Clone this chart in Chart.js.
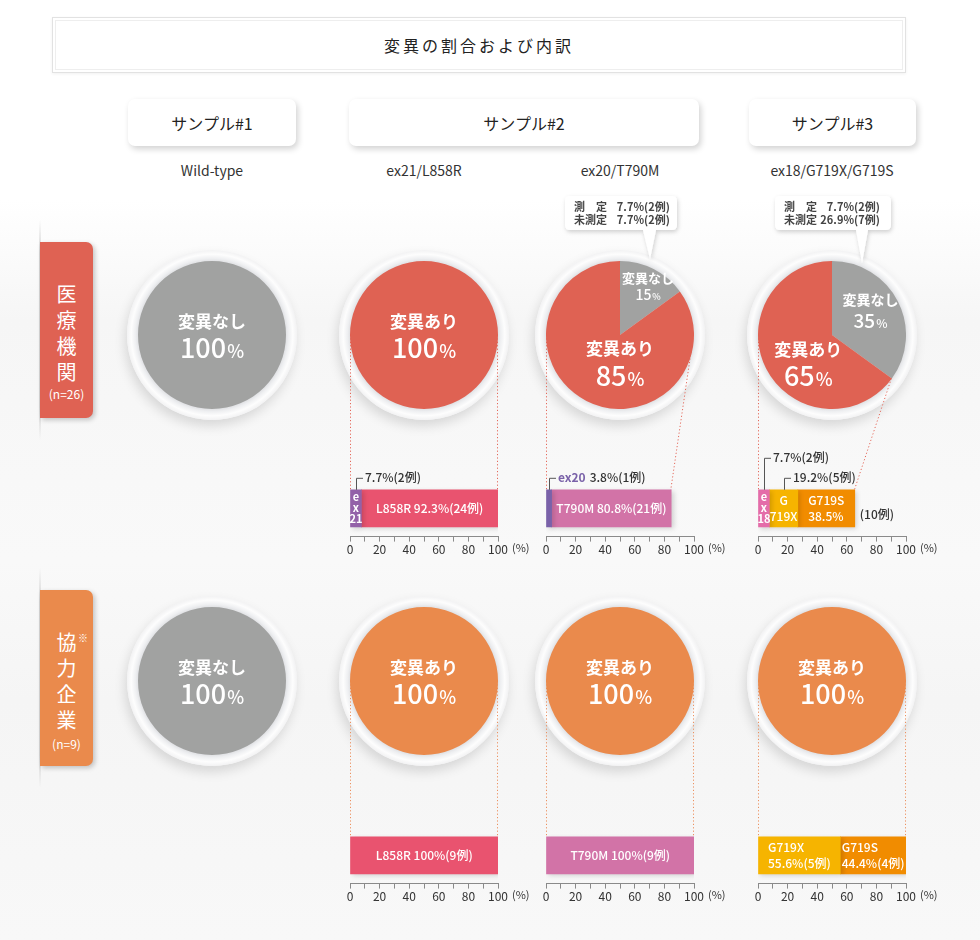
<!DOCTYPE html>
<html lang="ja">
<head>
<meta charset="utf-8">
<title>変異の割合および内訳</title>
<script src="https://cdn.jsdelivr.net/npm/chart.js@4.4.0/dist/chart.umd.min.js"></script>
<style>
  html, body { margin: 0; padding: 0; }
  body {
    width: 980px; height: 940px; position: relative; overflow: hidden;
    font-family: "Noto Sans CJK JP", "Noto Sans", sans-serif; color: #333;
    background: linear-gradient(#fff 0, #fff 200px, #f6f6f6 320px, #f9f9f9 560px, #f5f5f5 700px, #f8f8f8 940px);
  }
  .abs { position: absolute; }
  #title {
    left: 52px; top: 17px; width: 852px; height: 54px; background: #fff;
    border: 1px solid #e2e2e2; box-shadow: inset 0 0 0 2px #fff, inset 0 0 0 3px #eee, 0 1px 3px rgba(0,0,0,.06);
    display: flex; align-items: center; justify-content: center; font-size: 16px; letter-spacing: 3px; color: #222;
  }
  .sample {
    top: 99px; height: 47px; background: #fff; border-radius: 7px;
    box-shadow: 2px 3px 6px rgba(0,0,0,.18);
    display: flex; align-items: center; justify-content: center; font-size: 16px; color: #222;
  }
  .sub { top: 160px; width: 220px; text-align: center; font-size: 14px; color: #333; }
  .tab {
    left: 40px; width: 53px; border-radius: 0 7px 7px 0; color: #fff; text-align: center;
    box-shadow: 2px 2px 5px rgba(0,0,0,.22);
  }
  .tab .ch { position: absolute; left: 0; width: 53px; font-size: 20px; line-height: 26px; }
  .tab .n { position: absolute; left: 0; width: 53px; font-size: 12px; }
  .vline { left: 39px; width: 2px; background: linear-gradient(rgba(210,210,210,0), #d6d6d6 15%, #d6d6d6 85%, rgba(210,210,210,0)); }
  .ring {
    width: 170px; height: 170px; border-radius: 50%;
    background: radial-gradient(circle closest-side, #dcdde0 0, #dcdde0 86%, #eeeff1 90%, #fdfdfd 95%, #f2f2f3 100%);
    box-shadow: -2px 6px 12px rgba(0,0,0,.13);
    z-index: 1;
  }
  canvas { position: absolute; }
  .callout { z-index: 5; font-size: 11px; font-weight: 700; color: #444; line-height: 13px; }
  .callout .k { display: inline-block; width: 36px; }
  .callout .v { display: inline-block; width: 34px; text-align: right; }
</style>
</head>
<body>
<div id="title" class="abs"></div>
<svg id="notes" class="abs" width="980" height="300" style="left:0;top:0;z-index:4"></svg>
<canvas id="links" width="980" height="940" style="left:0;top:0;z-index:2"></canvas>
<script>
// ---- data ----
const chartTitle = '変異の割合および内訳';
const sampleNames = ['サンプル#1', 'サンプル#2', 'サンプル#3'];
const mutationTypes = ['Wild-type', 'ex21/L858R', 'ex20/T790M', 'ex18/G719X/G719S'];
const groupNames = ['医療機関', '協力企業'];
const groupN = [26, 9];
const sliceLabels = ['変異なし', '変異あり'];
// % per mutation type column, one row per group
const noMutation = [[100, 0, 15, 35], [100, 0, 0, 0]];
const withMutation = [[0, 100, 85, 65], [0, 100, 100, 100]];
// callouts on the 変異なし slices (row 1, columns ex20 and ex18)
const measuredPct = [7.7, 7.7];
const measuredCases = [2, 2];
const unmeasuredPct = [7.7, 26.9];
const unmeasuredCases = [2, 7];
// breakdown bars
const barSegNames = [['ex21', 'L858R'], ['ex20', 'T790M'], ['ex18', 'G719X', 'G719S'], ['L858R'], ['T790M'], ['G719X', 'G719S']];
const barSegPct = [[7.7, 92.3], [3.8, 80.8], [7.7, 19.2, 38.5], [100], [100], [55.6, 44.4]];
const barSegCases = [[2, 24], [1, 21], [2, 5, 10], [9], [9], [5, 4]];
const axisTicks = [0, 20, 40, 60, 80, 100];

// ---- layout / style ----
const colX = [212, 424, 620, 832];
const rowY = [335, 681];
const discR = 74;
const rowColor = ['#df6253', '#ea8a4c'];
const linkColor = ['#e4695b', '#ec9160'];
const gray = '#a1a2a1';
const segColor = { ex21: '#9361a8', L858R: '#e9536f', ex20: '#7a62a9', T790M: '#d273a7', ex18: '#e46ca9', G719X: '#f6b400', G719S: '#f18c00' };
const barCol = [1, 2, 3, 1, 2, 3];
const barRow = [0, 0, 0, 1, 1, 1];
const barAxisY = [537, 537, 537, 884, 884, 884];
const segModes = [['stack:1', 'inline'], ['tag:1', 'inline'], ['stack:2', 'split:1', 'namePct'], ['inline'], ['inline'], ['twoLine', 'twoLine']];
const pieSpots = { '0-2': [[0.38, -0.65], [0, 0.37]], '0-3': [[0.52, -0.33], [-0.32, 0.38]] };
const FONT = '"Noto Sans CJK JP", "Noto Sans", sans-serif';
Chart.defaults.font.family = FONT;

function el(cls, css, html) {
    const d = document.createElement('div');
    d.className = 'abs ' + cls;
    Object.assign(d.style, css);
    if (html !== undefined) d.innerHTML = html;
    document.body.appendChild(d);
    return d;
}

// header
document.getElementById('title').textContent = chartTitle;
el('sample', { left: '128px', width: '168px' }, sampleNames[0]);
el('sample', { left: '349px', width: '350px' }, sampleNames[1]);
el('sample', { left: '749px', width: '167px' }, sampleNames[2]);
mutationTypes.forEach((t, i) => el('sub', { left: (colX[i] - 110) + 'px' }, t));

// group tabs
const tabTop = [242, 590];
const tabChar0 = [281, 629];
groupNames.forEach((g, r) => {
    el('vline', { top: (tabTop[r] - 22) + 'px', height: '220px' });
    const tab = el('tab', { top: tabTop[r] + 'px', height: '176px', background: rowColor[r] });
    [...g].forEach((c, k) => {
        const s = document.createElement('div');
        s.className = 'ch';
        s.style.top = (tabChar0[r] - tabTop[r] + k * 26) + 'px';
        s.textContent = c;
        tab.appendChild(s);
    });
    if (r === 1) {
        const m = document.createElement('div');
        m.style.cssText = 'position:absolute;left:38px;top:40px;font-size:10px;';
        m.textContent = '※';
        tab.appendChild(m);
    }
    const n = document.createElement('div');
    n.className = 'n';
    n.style.top = (r === 0 ? 143 : 145) + 'px';
    n.textContent = '(n=' + groupN[r] + ')';
    tab.appendChild(n);
});

// pie labels plugin
const pieLabels = {
    id: 'pieLabels',
    afterDatasetsDraw(chart) {
        const ctx = chart.ctx;
        const ds = chart.data.datasets[0];
        const spots = chart.options.plugins.pieLabels.spots;
        chart.getDatasetMeta(0).data.forEach((arc, i) => {
            const v = ds.data[i];
            if (!v) return;
            const f = v / 100;
            let x = arc.x, y = arc.y;
            if (f < 0.999 && spots) {
                x += spots[i][0] * arc.outerRadius;
                y += spots[i][1] * arc.outerRadius;
            }
            const big = f >= 0.5;
            const nameSize = big ? 17 : Math.round(12 + 6 * f);
            const numSize = big ? 27 : Math.round(11 + 22 * f);
            const gap = big ? 13.5 : (f < 0.2 ? 8.5 : 10.5);
            ctx.save();
            ctx.fillStyle = '#fff';
            ctx.textBaseline = 'middle';
            ctx.textAlign = 'center';
            ctx.font = `700 ${nameSize}px ${FONT}`;
            ctx.fillText(chart.data.labels[i], x, y - gap);
            const num = String(v);
            ctx.font = `500 ${numSize}px ${FONT}`;
            const w1 = ctx.measureText(num).width;
            const pctSize = Math.round(numSize * 0.65);
            ctx.font = `500 ${pctSize}px ${FONT}`;
            const w2 = ctx.measureText('%').width;
            const x0 = x - (w1 + w2 + 1) / 2;
            ctx.textAlign = 'left';
            ctx.textBaseline = 'alphabetic';
            const base = y + gap + numSize * 0.36;
            ctx.font = `500 ${numSize}px ${FONT}`;
            ctx.fillText(num, x0, base);
            ctx.font = `500 ${pctSize}px ${FONT}`;
            ctx.fillText('%', x0 + w1 + 1, base);
            ctx.restore();
        });
    }
};

// rings + pies
groupNames.forEach((g, r) => {
    colX.forEach((cx, c) => {
        const cy = rowY[r];
        el('ring', { left: (cx - 85) + 'px', top: (cy - 85) + 'px' });
        const cv = document.createElement('canvas');
        cv.width = discR * 2; cv.height = discR * 2;
        cv.style.left = (cx - discR) + 'px';
        cv.style.top = (cy - discR) + 'px';
        cv.style.zIndex = 3;
        document.body.appendChild(cv);
        new Chart(cv, {
            type: 'pie',
            data: {
                labels: sliceLabels,
                datasets: [{ data: [noMutation[r][c], withMutation[r][c]], backgroundColor: [gray, rowColor[r]], borderWidth: 0 }]
            },
            options: {
                responsive: false, animation: false, events: [],
                layout: { padding: 0 },
                plugins: { legend: { display: false }, tooltip: { enabled: false }, pieLabels: { spots: pieSpots[r + '-' + c] } }
            },
            plugins: [pieLabels]
        });
    });
});

// callouts on partial pies
const notes = document.getElementById('notes');
const calloutBox = [[565, 196, 112, 34, 643, 656, 650, 259], [775, 196, 116, 34, 856, 868, 862, 263]];
calloutBox.forEach((b, k) => {
    const [x, y, w, h, p1, p2, tx, ty] = b, rr = 5;
    const d = `M${x + rr},${y} H${x + w - rr} Q${x + w},${y} ${x + w},${y + rr} V${y + h - rr} Q${x + w},${y + h} ${x + w - rr},${y + h}` +
        ` H${p2} L${tx},${ty} L${p1},${y + h} H${x + rr} Q${x},${y + h} ${x},${y + h - rr} V${y + rr} Q${x},${y} ${x + rr},${y} Z`;
    notes.innerHTML += `<defs><filter id="sh${k}" x="-20%" y="-20%" width="140%" height="160%"><feDropShadow dx="1" dy="2" stdDeviation="2" flood-color="#000" flood-opacity="0.18"/></filter></defs>` +
        `<path d="${d}" fill="#fff" filter="url(#sh${k})"/>`;
    el('callout', { left: (x + 9) + 'px', top: (y + 4) + 'px' },
        `<div><span class="k">測　定</span><span class="v">${measuredPct[k]}%</span>(${measuredCases[k]}例)</div>` +
        `<div><span class="k">未測定</span><span class="v">${unmeasuredPct[k]}%</span>(${unmeasuredCases[k]}例)</div>`);
});

// bar labels plugin
const barLabels = {
    id: 'barLabels',
    beforeDatasetsDraw(chart) {
        const ctx = chart.ctx;
        ctx.save();
        ctx.shadowColor = 'rgba(0,0,0,0.16)';
        ctx.shadowBlur = 5;
        ctx.shadowOffsetX = 2;
        ctx.shadowOffsetY = 2;
    },
    afterDatasetsDraw(chart) {
        const ctx = chart.ctx;
        ctx.restore();
        const modes = chart.options.plugins.barLabels.modes;
        ctx.save();
        chart.data.datasets.forEach((ds, i) => {
            const bar = chart.getDatasetMeta(i).data[0];
            const { x, base, y, height } = bar.getProps(['x', 'base', 'y', 'height'], true);
            const x0 = Math.min(x, base), x1 = Math.max(x, base);
            const mid = (x0 + x1) / 2, top = y - height / 2;
            const name = ds.label, pct = ds.data[0], cases = ds.cases;
            const [mode, lvl] = modes[i].split(':');
            ctx.fillStyle = '#fff';
            ctx.textBaseline = 'middle';
            ctx.textAlign = 'center';
            ctx.font = `500 12px ${FONT}`;
            if (mode === 'inline') {
                ctx.fillText(`${name} ${pct}%(${cases}例)`, mid, y);
            } else if (mode === 'stack') {
                ctx.font = `700 11px ${FONT}`;
                ['e', 'x', name.slice(2)].forEach((s, k) => ctx.fillText(s, mid, y - 11 + k * 11));
            } else if (mode === 'split') {
                ctx.fillText(name[0], mid, y - 8);
                ctx.fillText(name.slice(1), mid, y + 8);
            } else if (mode === 'namePct' || mode === 'twoLine') {
                const lines = mode === 'namePct' ? [name, pct + '%'] : [name, `${pct}%(${cases}例)`];
                const w = Math.max(...lines.map(s => ctx.measureText(s).width));
                ctx.textAlign = 'left';
                ctx.fillText(lines[0], mid - w / 2, y - 8);
                ctx.fillText(lines[1], mid - w / 2, y + 8);
                if (mode === 'namePct') {
                    ctx.fillStyle = '#333';
                    ctx.fillText(`(${cases}例)`, x1 + 5, y + 6);
                }
            }
            if (lvl) {
                const ly = top - (lvl === '1' ? 12 : 32);
                ctx.strokeStyle = '#555';
                ctx.lineWidth = 1;
                ctx.beginPath();
                ctx.moveTo(Math.round(mid) + 0.5, top);
                ctx.lineTo(Math.round(mid) + 0.5, ly + 0.5);
                ctx.lineTo(Math.round(mid) + 7, ly + 0.5);
                ctx.stroke();
                ctx.textAlign = 'left';
                ctx.font = `500 12px ${FONT}`;
                let tx = Math.round(mid) + 9;
                if (mode === 'tag') {
                    ctx.fillStyle = ds.backgroundColor;
                    ctx.font = `700 12px ${FONT}`;
                    ctx.fillText(name, tx, ly);
                    tx += ctx.measureText(name).width + 4;
                    ctx.font = `500 12px ${FONT}`;
                }
                ctx.fillStyle = '#333';
                ctx.fillText(`${pct}%(${cases}例)`, tx, ly);
            }
        });
        // axis unit
        const sx = chart.scales.x;
        ctx.fillStyle = '#333';
        ctx.font = `11px ${FONT}`;
        ctx.textAlign = 'left';
        ctx.textBaseline = 'top';
        ctx.fillText('(%)', sx.getPixelForValue(100) + 14, sx.top + 6);
        ctx.restore();
    }
};

const PAD_L = 20, PAD_R = 34, PAD_T = 50, AREA_H = 57;
const barCharts = [];
function makeBar(i, h) {
    const cv = document.createElement('canvas');
    cv.width = PAD_L + discR * 2 + PAD_R;
    cv.height = h;
    cv.style.left = (colX[barCol[i]] - discR - PAD_L) + 'px';
    cv.style.zIndex = 3;
    document.body.appendChild(cv);
    const chart = new Chart(cv, {
        type: 'bar',
        data: {
            labels: [''],
            datasets: barSegNames[i].map((n, k) => ({
                label: n, data: [barSegPct[i][k]], cases: barSegCases[i][k],
                backgroundColor: segColor[n], borderWidth: 0, barThickness: 37
            }))
        },
        options: {
            indexAxis: 'y', responsive: false, maintainAspectRatio: false, animation: false, events: [],
            layout: { padding: { left: PAD_L, right: PAD_R, top: PAD_T, bottom: 0 } },
            plugins: { legend: { display: false }, tooltip: { enabled: false }, barLabels: { modes: segModes[i] } },
            scales: {
                x: {
                    stacked: true, min: 0, max: 100,
                    border: { display: true, color: '#8a8a8a' },
                    grid: { drawOnChartArea: false, drawTicks: true, tickLength: 5, color: '#8a8a8a' },
                    ticks: {
                        stepSize: 10, autoSkip: false, maxRotation: 0, padding: 1, color: '#333', font: { size: 12 },
                        callback: v => axisTicks.includes(v) ? String(v) : ''
                    }
                },
                y: { stacked: true, display: false }
            }
        },
        plugins: [barLabels]
    });
    return { chart, cv };
}

barSegNames.forEach((s, i) => {
    let b = makeBar(i, 130);
    const a = b.chart.chartArea;
    const diff = (a.bottom - a.top) - AREA_H;
    if (Math.abs(diff) > 0.5) {
        b.chart.destroy();
        b.cv.remove();
        b = makeBar(i, 130 - Math.round(diff));
    }
    b.cv.style.top = (barAxisY[i] - b.chart.chartArea.bottom) + 'px';
    barCharts.push(b);
});

// dotted links from each disc to its breakdown bar
const lctx = document.getElementById('links').getContext('2d');
lctx.setLineDash([1.2, 2.2]);
lctx.lineWidth = 1;
barCharts.forEach((b, i) => {
    const r = barRow[i], c = barCol[i];
    const cx = colX[c], cy = rowY[r];
    const left = parseFloat(b.cv.style.left), top = parseFloat(b.cv.style.top);
    const sx = b.chart.scales.x;
    const total = barSegPct[i].reduce((p, q) => p + q, 0);
    const bar = b.chart.getDatasetMeta(0).data[0];
    const barTop = top + bar.y - bar.height / 2;
    const th = Math.max(90, noMutation[r][c] * 3.6) * Math.PI / 180;
    lctx.strokeStyle = linkColor[r];
    lctx.beginPath();
    lctx.moveTo(cx - discR + 0.5, cy);
    lctx.lineTo(left + sx.getPixelForValue(0) + 0.5, barTop);
    lctx.moveTo(cx + discR * Math.sin(th) - 0.5, cy - discR * Math.cos(th));
    lctx.lineTo(left + sx.getPixelForValue(Math.min(total, 100)) - 0.5, barTop);
    lctx.stroke();
});
</script>
</body>
</html>
